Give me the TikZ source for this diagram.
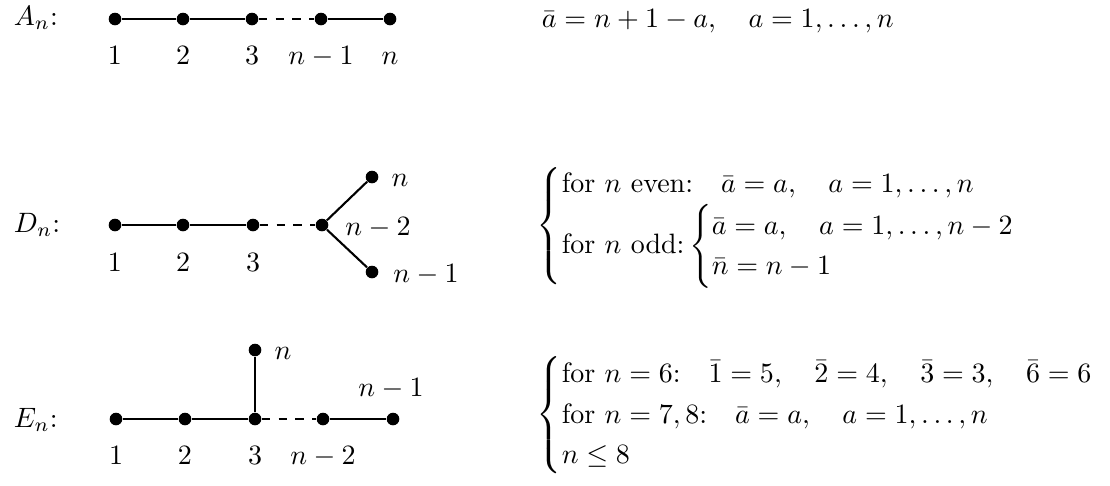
\documentclass[tikz,border=0pt]{standalone}
\usepackage{amsmath,amssymb}
\usepackage{tikz}
\usetikzlibrary{positioning}

\begin{document}
\begin{tikzpicture}[x=0.357pt,y=-0.357pt,
  dot/.style={circle,fill,inner sep=0pt,minimum size=4.5pt},
  lb/.style={inner sep=0pt,text height=6.5pt,text depth=0pt},
  ln/.style={line width=0.75pt}]
 \useasboundingbox (0,0) rectangle (1110,485);
 % A_n
 \node[anchor=base west] (An) at (4,25) {$A_n$:};
 \node[dot] (a1) at (115,19) {};
 \node[dot] (a2) at (183,19) {};
 \node[dot] (a3) at (252,19) {};
 \node[dot] (a4) at (321,19) {};
 \node[dot] (a5) at (390,19) {};
 \node[lb] (la1) at (115,55) {$1$};
 \node[lb] (la2) at (183,55) {$2$};
 \node[lb] (la3) at (252,55) {$3$};
 \node[lb] (la4) at (321,55) {$n-1$};
 \node[lb] (la5) at (390,55) {$n$};
 \node[anchor=base west] (fA) at (532,27) {$\bar a=n+1-a,\quad a=1,\dots,n$};
 % D_n
 \node[anchor=base west] (Dn) at (4,232) {$D_n$:};
 \node[dot] (d1) at (115,225) {};
 \node[dot] (d2) at (183,225) {};
 \node[dot] (d3) at (253,225) {};
 \node[dot] (d4) at (322,225) {};
 \node[dot] (d5) at (372,177) {};
 \node[dot] (d6) at (372,272) {};
 \node[lb] (ld1) at (115,262) {$1$};
 \node[lb] (ld2) at (183,262) {$2$};
 \node[lb] (ld3) at (253,262) {$3$};
 \node[lb] (ld4) at (378,226) {$n-2$};
 \node[lb] (ld5) at (400,177) {$n$};
 \node[lb] (ld6) at (426,273) {$n-1$};
 \node[anchor=west] (fD) at (527,226) {$\begin{cases}
   \text{for $n$ even:}\quad \bar a=a,\quad a=1,\dots,n\\
   \text{for $n$ odd:}\begin{cases}\bar a=a,\quad a=1,\dots,n-2\\ \bar n=n-1\end{cases}
   \end{cases}$};
 % E_n
 \node[anchor=base west] (En) at (4,427) {$E_n$:};
 \node[dot] (e1) at (116,419) {};
 \node[dot] (e2) at (185,419) {};
 \node[dot] (e3) at (255,419) {};
 \node[dot] (e4) at (323,419) {};
 \node[dot] (e5) at (393,419) {};
 \node[dot] (e6) at (255,350) {};
 \node[lb] (le1) at (116,455) {$1$};
 \node[lb] (le2) at (185,455) {$2$};
 \node[lb] (le3) at (255,455) {$3$};
 \node[lb] (le4) at (323,455) {$n-2$};
 \node[lb] (le5) at (391,387) {$n-1$};
 \node[lb] (le6) at (283,350) {$n$};
 \node[anchor=west] (fE) at (527,415) {$\begin{cases}
   \text{for $n=6$:}\quad \bar 1=5,\quad \bar 2=4,\quad \bar 3=3,\quad \bar 6=6\\
   \text{for $n=7,8$:}\quad \bar a=a,\quad a=1,\dots,n\\
   n\leq 8
   \end{cases}$};
 \foreach \a/\b in {a1/a2,a2/a3,a4/a5,d1/d2,d2/d3,d4/d5,d4/d6,e1/e2,e2/e3,e3/e6,e4/e5}
   \draw[ln] (\a)--(\b);
 \foreach \a/\b in {a3/a4,d3/d4,e3/e4}
   \draw[ln,dashed] (\a)--(\b);
\end{tikzpicture}
\end{document}
